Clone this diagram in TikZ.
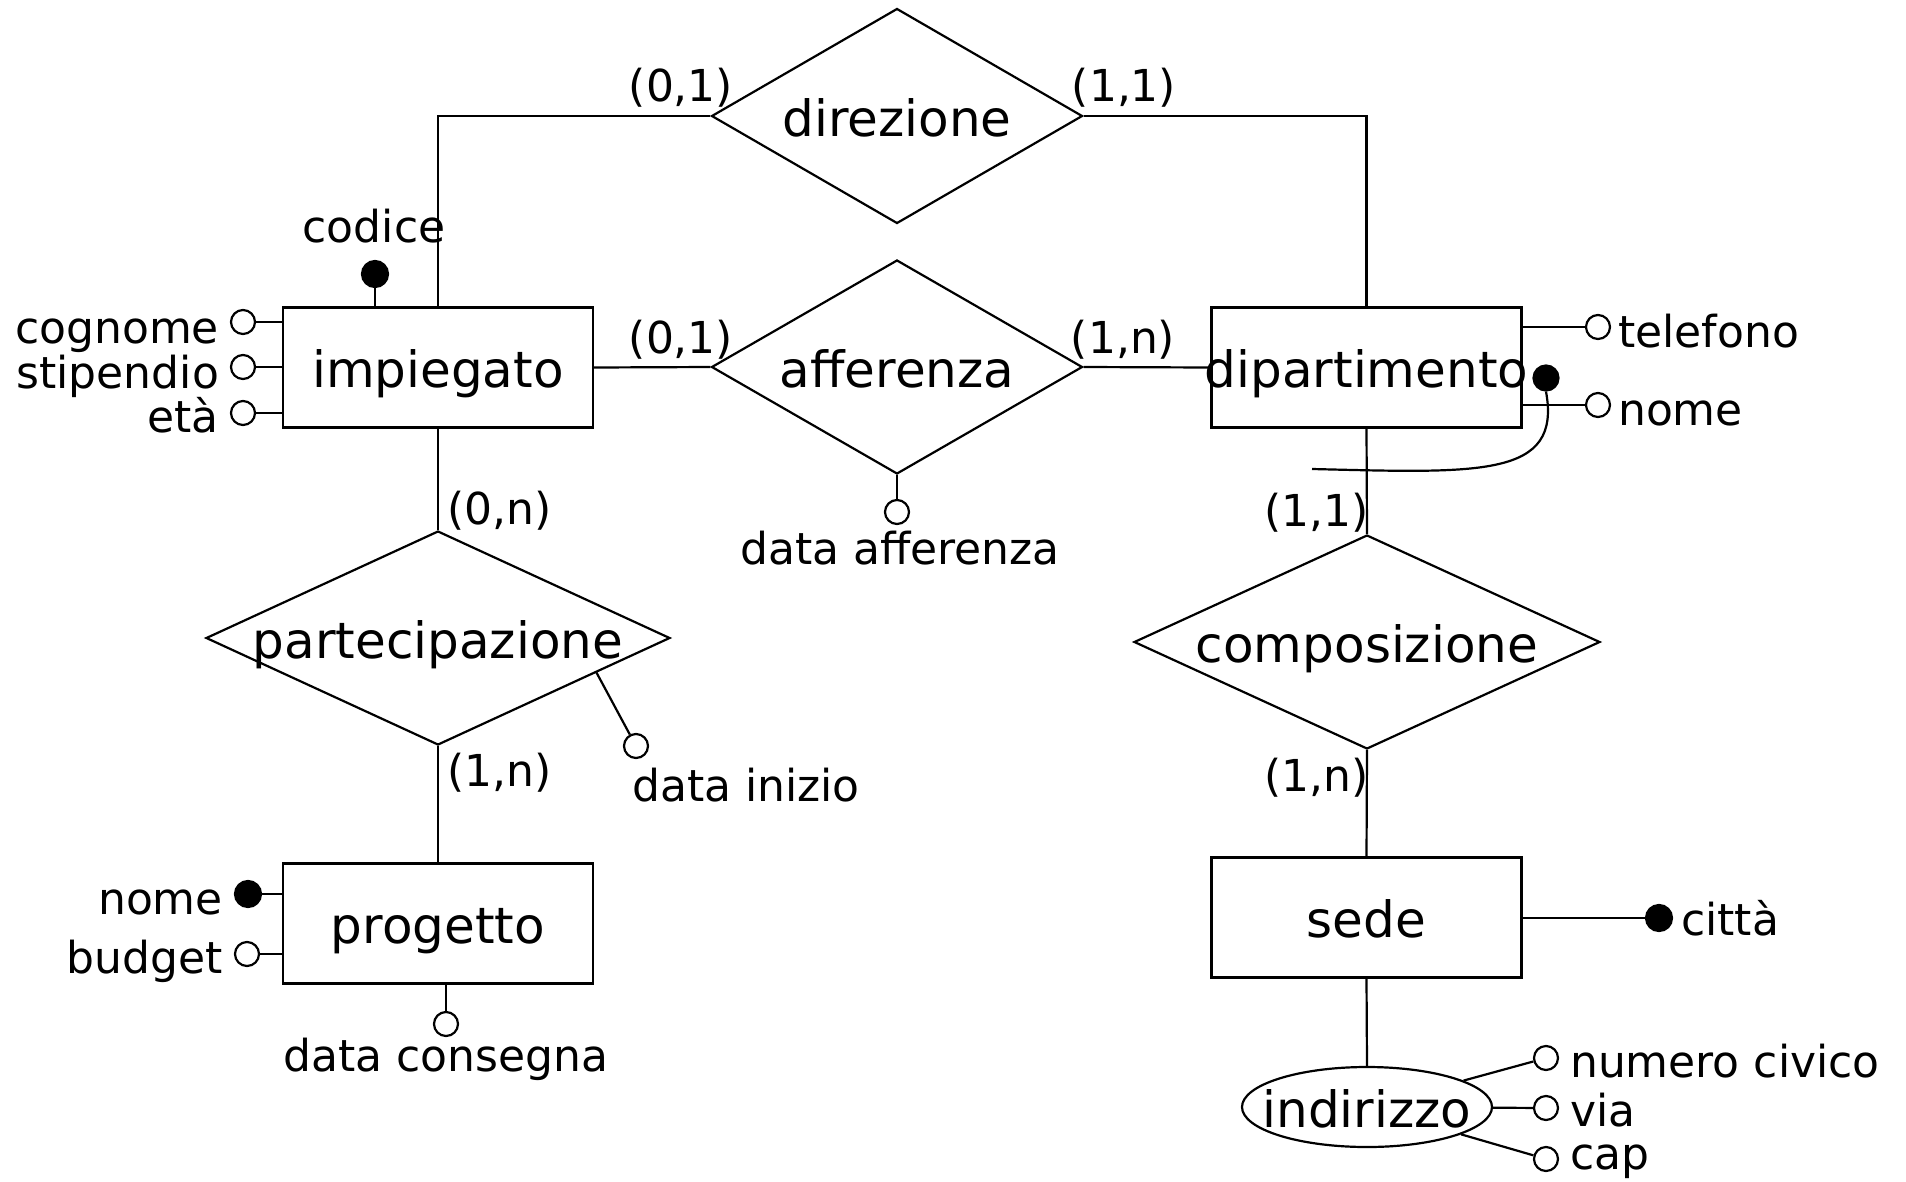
\documentclass[tikz,border=0pt]{standalone}
\usepackage{fontspec}
\setmainfont{DejaVu Sans}
\usetikzlibrary{shapes.geometric,calc}
\newcommand\bigtxt{\fontsize{50pt}{60pt}\selectfont}
\newcommand\smalltxt{\fontsize{44pt}{53pt}\selectfont}
\newcommand\ctr[1]{\makebox[0pt]{#1}}

\begin{document}
\begin{tikzpicture}[x=1pt,y=-1pt,
  line width=2.2pt,
  entity/.style={draw, rectangle, minimum width=310pt, minimum height=120pt,
    inner sep=0pt, font=\bigtxt, text height=40pt, text depth=0pt},
  relation/.style={draw, diamond, inner sep=0pt, font=\bigtxt,
    text height=40pt, text depth=0pt},
  attr/.style={draw, circle, fill=white, minimum size=24pt, inner sep=0pt},
  keyattr/.style={draw, circle, fill=black, minimum size=26pt, inner sep=0pt},
  lbl/.style={font=\smalltxt, inner sep=0pt},
]
% canvas
\path[fill=white, use as bounding box] (0,0) rectangle (1906,1181);

% relationships
\node[relation, minimum width=371pt, minimum height=215pt] (dir) at (897,116) {\ctr{direzione}};
\node[relation, minimum width=371pt, minimum height=214pt] (aff) at (897,367) {\ctr{afferenza}};
\node[relation, minimum width=464pt, minimum height=214pt] (par) at (438,638) {\ctr{partecipazione}};
\node[relation, minimum width=466pt, minimum height=214pt] (com) at (1367,642) {\ctr{composizione}};

% entities
\node[entity] (imp) at (438,367.5) {\ctr{impiegato}};
\node[entity] (dip) at (1366.5,367.5) {\ctr{dipartimento}};
\node[entity] (prog) at (438,923.5) {\ctr{progetto}};
\node[entity] (sede) at (1366.5,917.5) {\ctr{sede}};

% composite attribute
\node[draw, ellipse, minimum width=250pt, minimum height=80pt, inner sep=0pt,
  font=\bigtxt, text height=40pt, text depth=0pt] (ind) at (1367,1107) {\ctr{indirizzo}};

% links between entities and relationships
\draw (imp.north) |- (dir.west);
\draw (dir.east) -| (dip.north);
\draw (imp.east) -- (aff.west);
\draw (aff.east) -- (dip.west);
\draw (imp.south) -- (par.north);
\draw (par.south) -- (prog.north);
\draw (dip.south) -- (com.north);
\draw (com.south) -- (sede.north);
\draw (sede.south) -- (ind.north);

% cardinalities
\node[lbl, anchor=base] (cdir1) at (681,101) {(0,1)};
\node[lbl, anchor=base] (cdir2) at (1124,101) {(1,1)};
\node[lbl, anchor=base] (caff1) at (681,353) {(0,1)};
\node[lbl, anchor=base] (caff2) at (1123,353) {(1,n)};
\node[lbl, anchor=base west] (cpar1) at (446,524) {(0,n)};
\node[lbl, anchor=base west] (cpar2) at (446,786) {(1,n)};
\node[lbl, anchor=base east] (ccom1) at (1370,526) {(1,1)};
\node[lbl, anchor=base east] (ccom2) at (1370,791) {(1,n)};

% impiegato attributes
\node[keyattr] (kcod) at (375,274) {};
\draw (kcod) -- (kcod |- imp.north);
\node[lbl, anchor=base] (tcod) at (374,242) {codice};
\node[attr] (acog) at (243,322) {};
\draw (acog) -- (acog -| imp.west);
\node[lbl, anchor=base east] (tcog) at (220,343) {cognome};
\node[attr] (asti) at (243,367) {};
\draw (asti) -- (asti -| imp.west);
\node[lbl, anchor=base east] (tsti) at (220,388) {stipendio};
\node[attr] (aeta) at (243,413) {};
\draw (aeta) -- (aeta -| imp.west);
\node[lbl, anchor=base east] (teta) at (220,432) {età};

% dipartimento attributes and external identifier
\node[attr] (atel) at (1598,327) {};
\draw (atel) -- (atel -| dip.east);
\node[lbl, anchor=base west] (ttel) at (1617,347) {telefono};
\node[attr] (anom) at (1598,405) {};
\draw (anom) -- (anom -| dip.east);
\node[lbl, anchor=base west] (tnom) at (1617,425) {nome};
\node[keyattr, minimum size=25pt] (kdip) at (1546,378) {};
\coordinate (kend) at (1312,469);
\draw (kdip.south) .. controls (1562,478) and (1480,473) .. (kend);

% afferenza attribute
\node[attr] (adaff) at (897,512) {};
\draw (aff.south) -- (adaff);
\node[lbl, anchor=base] (tdaff) at (900,564) {data afferenza};

% partecipazione attribute
\coordinate (pin) at ($(par.east)!0.32!(par.south)$);
\node[attr] (adin) at (636,746) {};
\draw (pin) -- (adin);
\node[lbl, anchor=base west] (tdin) at (631,801) {data inizio};

% progetto attributes
\node[keyattr] (kprog) at (248,894) {};
\draw (kprog) -- (kprog -| prog.west);
\node[lbl, anchor=base east] (tpnom) at (224,914) {nome};
\node[attr] (abud) at (247,954) {};
\draw (abud) -- (abud -| prog.west);
\node[lbl, anchor=base east] (tbud) at (224,973) {budget};
\node[attr] (adcons) at (446,1024) {};
\draw (adcons) -- (adcons |- prog.south);
\node[lbl, anchor=base] (tdcons) at (446,1071) {data consegna};

% sede attributes
\node[keyattr] (ksede) at (1659,918) {};
\draw (ksede) -- (ksede -| sede.east);
\node[lbl, anchor=base west] (tcit) at (1680,935) {città};

% indirizzo components
\node[attr] (anciv) at (1546,1058) {};
\node[attr] (avia) at (1546,1108) {};
\node[attr] (acap) at (1546,1159) {};
\draw (ind) -- (anciv);
\draw (ind) -- (avia);
\draw (ind) -- (acap);
\node[lbl, anchor=base west] (tnciv) at (1569,1077) {numero civico};
\node[lbl, anchor=base west] (tvia) at (1569,1126) {via};
\node[lbl, anchor=base west] (tcap) at (1569,1169) {cap};
\end{tikzpicture}
\end{document}
